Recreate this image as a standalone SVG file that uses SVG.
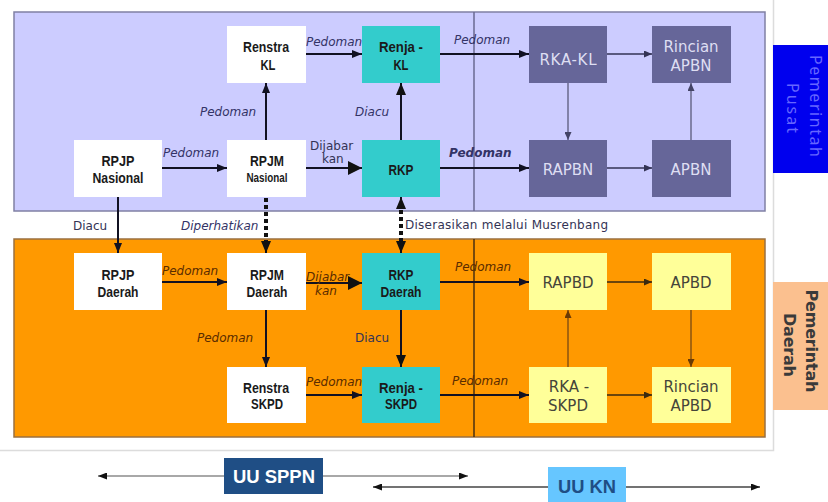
<svg xmlns="http://www.w3.org/2000/svg" width="828" height="502" viewBox="0 0 828 502">
<style>
.nb{font-family:"Liberation Sans",Arial,sans-serif;font-weight:bold;font-size:15px;fill:#1a1a1a;text-anchor:middle}
.ns{font-family:"Liberation Sans",Arial,sans-serif;font-weight:bold;font-size:12px;fill:#1a1a1a;text-anchor:middle}
.np{font-family:"DejaVu Sans",Verdana,sans-serif;font-size:15px;fill:#dedef2;text-anchor:middle}
.ny{font-family:"DejaVu Sans",Verdana,sans-serif;font-size:15px;fill:#45453a;text-anchor:middle}
.lt{font-family:"DejaVu Sans",Verdana,sans-serif;font-size:12px;font-style:italic;fill:#333366}
.lb{font-family:"DejaVu Sans",Verdana,sans-serif;font-size:12px;font-style:italic;fill:#5a2c00}
.ln{font-family:"DejaVu Sans",Verdana,sans-serif;font-size:12px;fill:#333355}
.c{fill:none;stroke:#111122;stroke-width:2}
.cp{fill:none;stroke:#333355;stroke-width:1.5}
.cg{fill:none;stroke:#6a6a8c;stroke-width:1.5}
.cbr{fill:none;stroke:#8a5510;stroke-width:1.5}
.cd{fill:none;stroke:#3a2a10;stroke-width:1.5}
.dot{fill:none;stroke:#111;stroke-width:4;stroke-dasharray:4 3}
.white{fill:#ffffff}
.teal{fill:#33cccc}
.purp{fill:#666699}
.yel{fill:#ffff99}
</style>
<defs>
<marker id="ah" viewBox="0 0 10 8" refX="10" refY="4" markerWidth="10" markerHeight="8" orient="auto" markerUnits="userSpaceOnUse"><path d="M0,0 L10,4 L0,8 z" fill="#111122"/></marker>
<marker id="ahm" viewBox="0 0 12 10" refX="12" refY="5" markerWidth="12" markerHeight="10" orient="auto-start-reverse" markerUnits="userSpaceOnUse"><path d="M0,0 L12,5 L0,10 z" fill="#111"/></marker>
<marker id="ahb" viewBox="0 0 14 14" refX="14" refY="7" markerWidth="14" markerHeight="14" orient="auto" markerUnits="userSpaceOnUse"><path d="M0,0 L14,7 L0,14 z" fill="#111"/></marker>
<marker id="ahp" viewBox="0 0 8 7" refX="8" refY="3.5" markerWidth="8" markerHeight="7" orient="auto" markerUnits="userSpaceOnUse"><path d="M0,0 L8,3.5 L0,7 z" fill="#333355"/></marker>
<marker id="ahg" viewBox="0 0 8 7" refX="8" refY="3.5" markerWidth="8" markerHeight="7" orient="auto" markerUnits="userSpaceOnUse"><path d="M0,0 L8,3.5 L0,7 z" fill="#444466"/></marker>
<marker id="ahbr" viewBox="0 0 8 7" refX="8" refY="3.5" markerWidth="8" markerHeight="7" orient="auto" markerUnits="userSpaceOnUse"><path d="M0,0 L8,3.5 L0,7 z" fill="#6a3a05"/></marker>
<marker id="ahd" viewBox="0 0 8 7" refX="8" refY="3.5" markerWidth="8" markerHeight="7" orient="auto" markerUnits="userSpaceOnUse"><path d="M0,0 L8,3.5 L0,7 z" fill="#3a2a10"/></marker>
<marker id="ahl" viewBox="0 0 9 7" refX="9" refY="3.5" markerWidth="9" markerHeight="7" orient="auto-start-reverse" markerUnits="userSpaceOnUse"><path d="M0,0 L9,3.5 L0,7 z" fill="#111"/></marker>
</defs>

<rect x="0" y="0" width="828" height="502" fill="#ffffff"/>
<path d="M773.5,0 V450.5 H0" fill="none" stroke="#dcdcdc" stroke-width="1.5"/>

<g id="panel-pusat">
<rect x="14" y="12" width="751" height="199" fill="#ccccff" stroke="#8080a4" stroke-width="1.5"/>
<line x1="474" y1="12" x2="474" y2="211" stroke="#6a6a92" stroke-width="1.5"/>
</g>
<g id="panel-daerah">
<rect x="14" y="239" width="751" height="198" fill="#ff9900" stroke="#9a7040" stroke-width="1.5"/>
<line x1="474" y1="239" x2="474" y2="437" stroke="#4a3010" stroke-width="1.5"/>
</g>

<g id="connectors">
<path class="c" d="M306,54 H362" marker-end="url(#ah)"/>
<path class="c" d="M440,54 H529" marker-end="url(#ah)"/>
<path class="cp" d="M607,54 H652" marker-end="url(#ahp)"/>
<path class="cg" d="M568,83 V140" marker-end="url(#ahg)"/>
<path class="cg" d="M691,140 V83" marker-end="url(#ahg)"/>
<path class="cp" d="M607,168 H652" marker-end="url(#ahp)"/>
<path class="c" d="M440,168 H529" marker-end="url(#ah)"/>
<path class="c" d="M162,168 H227" marker-end="url(#ah)"/>
<path class="c" d="M266,140 V83" marker-end="url(#ah)"/>
<path class="c" d="M306,168 H362" stroke-width="4.5" marker-end="url(#ahb)"/>
<path class="c" d="M401,140 V83" stroke-width="3" marker-end="url(#ahm)"/>
<path class="c" d="M118,197 V253" stroke-width="2.5" marker-end="url(#ah)"/>
<path class="dot" d="M266,198 V241"/>
<path class="c" d="M266,240 V253" stroke-width="3" marker-end="url(#ahm)"/>
<path class="dot" d="M401,210 V241"/>
<path class="c" d="M401,209 V197" stroke-width="3" marker-end="url(#ahm)"/>
<path class="c" d="M401,240 V253" stroke-width="3" marker-end="url(#ahm)"/>

<path class="c" d="M162,282 H227" marker-end="url(#ah)"/>
<path class="c" d="M306,283 H362" stroke-width="4" marker-end="url(#ahb)"/>
<path class="c" d="M266,310 V367" marker-end="url(#ah)"/>
<path class="c" d="M401,310 V367" stroke-width="3" marker-end="url(#ahm)"/>
<path class="c" d="M306,395 H362" marker-end="url(#ah)"/>
<path class="c" d="M440,282 H529" marker-end="url(#ah)"/>
<path class="c" d="M440,395 H529" marker-end="url(#ah)"/>
<path class="cd" d="M607,282 H652" marker-end="url(#ahd)"/>
<path class="cbr" d="M568,367 V310" marker-end="url(#ahbr)"/>
<path class="cbr" d="M691,310 V367" marker-end="url(#ahbr)"/>
<path class="cd" d="M607,395 H652" marker-end="url(#ahd)"/>

<path d="M98,476 H468" fill="none" stroke="#a8a8a8" stroke-width="2" marker-start="url(#ahl)" marker-end="url(#ahl)"/>
<path d="M373,487 H760" fill="none" stroke="#444" stroke-width="1.5" marker-start="url(#ahl)" marker-end="url(#ahl)"/>

<text class="lt" x="306" y="46">Pedoman</text>
<text class="lt" x="454" y="44">Pedoman</text>
<text class="lt" x="200" y="116">Pedoman</text>
<text class="lt" x="355" y="116">Diacu</text>
<text class="lt" x="163" y="157">Pedoman</text>
<text class="ln" x="310" y="150">Dijabar</text>
<text class="ln" x="322" y="163">kan</text>
<text class="lt" x="449" y="157" font-weight="bold" fill="#1a1a33">Pedoman</text>
<text class="ln" x="73" y="230">Diacu</text>
<text class="lt" x="181" y="230">Diperhatikan</text>
<text class="ln" x="405" y="229" textLength="203">Diserasikan melalui Musrenbang</text>

<text class="lb" x="162" y="275">Pedoman</text>
<text class="lb" x="306" y="281">Dijabar</text>
<text class="lb" x="315" y="295">kan</text>
<text class="lb" x="197" y="342">Pedoman</text>
<text class="ln" x="355" y="342" fill="#3a2a10">Diacu</text>
<text class="lb" x="306" y="386">Pedoman</text>
<text class="lb" x="455" y="271">Pedoman</text>
<text class="lb" x="452" y="385">Pedoman</text>
</g>

<g id="renstra-kl">
<rect class="white" x="227" y="26" width="79" height="57"/>
<text class="nb" x="266" y="52" textLength="46" lengthAdjust="spacingAndGlyphs">Renstra</text>
<text class="nb" x="268" y="70" textLength="15" lengthAdjust="spacingAndGlyphs">KL</text>
</g>
<g id="renja-kl">
<rect class="teal" x="362" y="26" width="78" height="57"/>
<text class="nb" x="401" y="52" textLength="44" lengthAdjust="spacingAndGlyphs">Renja -</text>
<text class="nb" x="401" y="70" textLength="15" lengthAdjust="spacingAndGlyphs">KL</text>
</g>
<g id="rpjp-nasional">
<rect class="white" x="74" y="140" width="88" height="57"/>
<text class="nb" x="118" y="166" textLength="33" lengthAdjust="spacingAndGlyphs">RPJP</text>
<text class="nb" x="118" y="183" textLength="51" lengthAdjust="spacingAndGlyphs">Nasional</text>
</g>
<g id="rpjm-nasional">
<rect class="white" x="227" y="140" width="79" height="57"/>
<text class="nb" x="267" y="166" textLength="34" lengthAdjust="spacingAndGlyphs">RPJM</text>
<text class="ns" x="267" y="182" textLength="41" lengthAdjust="spacingAndGlyphs">Nasional</text>
</g>
<g id="rkp">
<rect class="teal" x="362" y="140" width="78" height="57"/>
<text class="nb" x="401" y="175" textLength="25" lengthAdjust="spacingAndGlyphs">RKP</text>
</g>
<g id="rka-kl">
<rect class="purp" x="529" y="26" width="78" height="57"/>
<text class="np" x="568" y="65" textLength="57">RKA-KL</text>
</g>
<g id="rincian-apbn">
<rect class="purp" x="652" y="26" width="79" height="57"/>
<text class="np" x="691" y="52">Rincian</text>
<text class="np" x="691" y="71">APBN</text>
</g>
<g id="rapbn">
<rect class="purp" x="529" y="140" width="78" height="57"/>
<text class="np" x="568" y="175">RAPBN</text>
</g>
<g id="apbn">
<rect class="purp" x="652" y="140" width="79" height="57"/>
<text class="np" x="691" y="175">APBN</text>
</g>

<g id="rpjp-daerah">
<rect class="white" x="74" y="253" width="88" height="57"/>
<text class="nb" x="118" y="280" textLength="33" lengthAdjust="spacingAndGlyphs">RPJP</text>
<text class="nb" x="118" y="297" textLength="41" lengthAdjust="spacingAndGlyphs">Daerah</text>
</g>
<g id="rpjm-daerah">
<rect class="white" x="227" y="253" width="79" height="57"/>
<text class="nb" x="267" y="280" textLength="34" lengthAdjust="spacingAndGlyphs">RPJM</text>
<text class="nb" x="267" y="297" textLength="41" lengthAdjust="spacingAndGlyphs">Daerah</text>
</g>
<g id="rkp-daerah">
<rect class="teal" x="362" y="253" width="78" height="57"/>
<text class="nb" x="401" y="280" textLength="25" lengthAdjust="spacingAndGlyphs">RKP</text>
<text class="nb" x="401" y="297" textLength="41" lengthAdjust="spacingAndGlyphs">Daerah</text>
</g>
<g id="renstra-skpd">
<rect class="white" x="227" y="367" width="79" height="56"/>
<text class="nb" x="266" y="393" textLength="46" lengthAdjust="spacingAndGlyphs">Renstra</text>
<text class="nb" x="267" y="409" textLength="32" lengthAdjust="spacingAndGlyphs">SKPD</text>
</g>
<g id="renja-skpd">
<rect class="teal" x="362" y="367" width="78" height="56"/>
<text class="nb" x="401" y="393" textLength="44" lengthAdjust="spacingAndGlyphs">Renja -</text>
<text class="nb" x="401" y="409" textLength="32" lengthAdjust="spacingAndGlyphs">SKPD</text>
</g>
<g id="rapbd">
<rect class="yel" x="529" y="253" width="78" height="57"/>
<text class="ny" x="568" y="288">RAPBD</text>
</g>
<g id="apbd">
<rect class="yel" x="652" y="253" width="79" height="57"/>
<text class="ny" x="691" y="288">APBD</text>
</g>
<g id="rka-skpd">
<rect class="yel" x="529" y="367" width="78" height="56"/>
<text class="ny" x="569" y="392">RKA -</text>
<text class="ny" x="568" y="411">SKPD</text>
</g>
<g id="rincian-apbd">
<rect class="yel" x="652" y="367" width="79" height="56"/>
<text class="ny" x="691" y="392">Rincian</text>
<text class="ny" x="691" y="411">APBD</text>
</g>

<g id="pemerintah-pusat">
<rect x="773" y="45" width="55" height="128" fill="#0000ee"/>
<text transform="translate(810,106) rotate(90)" font-family="'Noto Sans','DejaVu Sans',sans-serif" font-size="16" fill="#6666ff" text-anchor="middle" textLength="102">Pemerintah</text>
<text transform="translate(787,108) rotate(90)" font-family="'Noto Sans','DejaVu Sans',sans-serif" font-size="16" fill="#6666ff" text-anchor="middle" textLength="50">Pusat</text>
</g>
<g id="pemerintah-daerah">
<rect x="773" y="282" width="55" height="128" fill="#fbc08f"/>
<text transform="translate(806,341) rotate(90)" font-family="'DejaVu Sans',Verdana,sans-serif" font-weight="bold" font-size="16" fill="#3a3a3a" text-anchor="middle" textLength="103">Pemerintah</text>
<text transform="translate(784,345) rotate(90)" font-family="'DejaVu Sans',Verdana,sans-serif" font-weight="bold" font-size="16" fill="#3a3a3a" text-anchor="middle" textLength="64">Daerah</text>
</g>

<g id="uu-sppn">
<rect x="224" y="458" width="99" height="36" fill="#1f4e85"/>
<text x="274" y="483" font-family="'Liberation Sans',Arial,sans-serif" font-weight="bold" font-size="19" fill="#ffffff" text-anchor="middle" textLength="82" lengthAdjust="spacingAndGlyphs">UU SPPN</text>
</g>
<g id="uu-kn">
<rect x="548" y="467" width="78" height="35" fill="#66c6ff"/>
<text x="587" y="493" font-family="'Liberation Sans',Arial,sans-serif" font-weight="bold" font-size="19" fill="#1f4e85" text-anchor="middle" textLength="58" lengthAdjust="spacingAndGlyphs">UU KN</text>
</g>
</svg>
